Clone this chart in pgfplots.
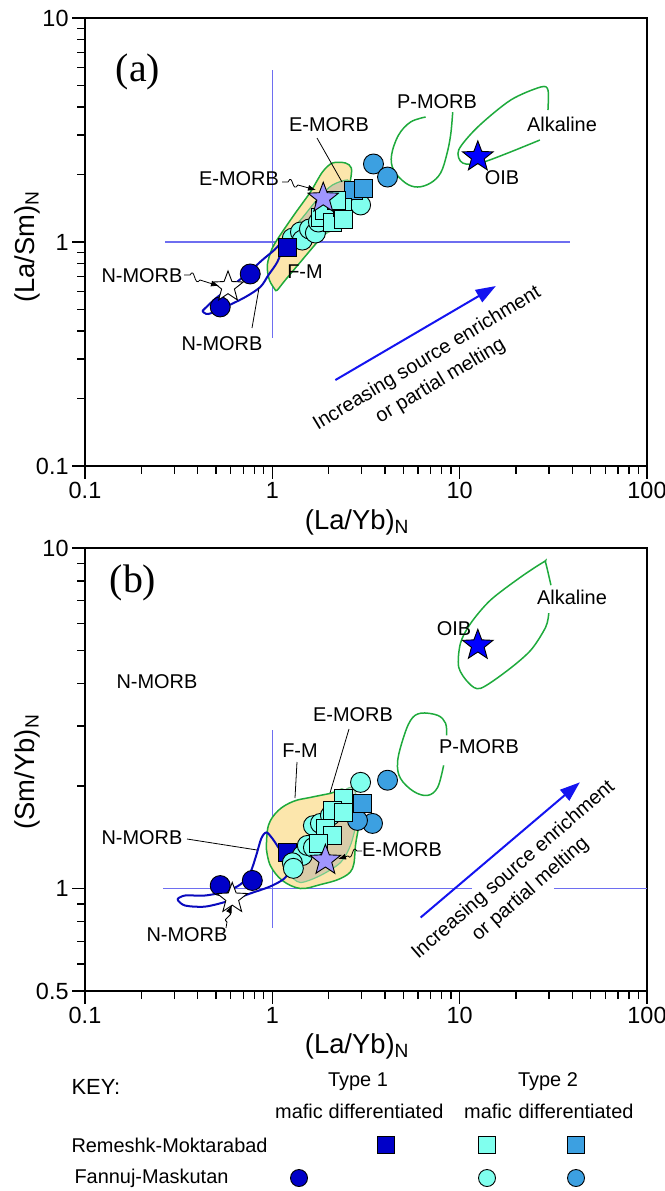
\documentclass[border=0pt]{standalone}
\usepackage{pgfplots}
\pgfplotsset{compat=1.18}
\usepackage{fontspec}
\setmainfont{Liberation Sans}
\newfontfamily\seriffont{Liberation Serif}
\usetikzlibrary{arrows.meta}

\definecolor{dblue}{RGB}{0,0,200}
\definecolor{cyanm}{RGB}{128,255,238}
\definecolor{mblue}{RGB}{60,160,225}
\definecolor{fmfill}{RGB}{252,230,172}
\definecolor{fgreen}{RGB}{30,170,60}
\definecolor{refl}{RGB}{110,110,240}
\definecolor{arrowb}{RGB}{20,20,240}
\definecolor{nmorb}{RGB}{10,10,190}
\definecolor{emstar}{RGB}{160,150,255}

\pgfdeclareplotmark{fstar}{%
\pgfpathmoveto{\pgfpointpolar{90}{\pgfplotmarksize}}%
\pgfpathlineto{\pgfpointpolar{126}{0.42\pgfplotmarksize}}%
\pgfpathlineto{\pgfpointpolar{162}{\pgfplotmarksize}}%
\pgfpathlineto{\pgfpointpolar{198}{0.42\pgfplotmarksize}}%
\pgfpathlineto{\pgfpointpolar{234}{\pgfplotmarksize}}%
\pgfpathlineto{\pgfpointpolar{270}{0.42\pgfplotmarksize}}%
\pgfpathlineto{\pgfpointpolar{306}{\pgfplotmarksize}}%
\pgfpathlineto{\pgfpointpolar{342}{0.42\pgfplotmarksize}}%
\pgfpathlineto{\pgfpointpolar{18}{\pgfplotmarksize}}%
\pgfpathlineto{\pgfpointpolar{54}{0.42\pgfplotmarksize}}%
\pgfpathclose
\pgfusepathqfillstroke}

\newcommand\fa{\fontsize{20}{26}\selectfont}
\newcommand\fb{\fontsize{27.5}{30}\selectfont}
\newcommand\ft{\fontsize{23.5}{24}\selectfont}
\newcommand\fp{\seriffont\fontsize{40}{40}\selectfont}

\begin{document}
\begin{tikzpicture}
\useasboundingbox (0,0) rectangle (665bp,-1191bp);

% ================= (a) =================
\begin{axis}[xmode=log, ymode=log, scale only axis, width=562bp, height=448bp,
  at={(85bp,-18bp)}, anchor=north west,
  xmin=0.1, xmax=100, ymin=0.1, ymax=10,
  xtick={0.1,1,10,100}, xticklabels={0.1,1,10,100},
  ytick={0.1,1,10}, yticklabels={0.1,1,10},
  minor xtick={0.2,0.3,0.4,0.5,0.6,0.7,0.8,0.9,2,3,4,5,6,7,8,9,20,30,40,50,60,70,80,90},
  minor ytick={0.2,0.3,0.4,0.5,0.6,0.7,0.8,0.9,2,3,4,5,6,7,8,9},
  axis line style={line width=1.6bp},
  tick style={line width=1.3bp, black},
  tick align=outside, xtick pos=bottom, ytick pos=left,
  major tick length=13bp, minor tick length=8bp,
  tick label style={font=\ft}]
\addplot[refl, line width=1.5bp] coordinates {(1,0.373) (1,5.86)};
\addplot[refl, line width=1.5bp] coordinates {(0.268,1) (38.7,1)};
\addplot[arrowb, line width=2bp, -{Triangle[length=20bp,width=14bp]}] coordinates {(2.17,0.242) (15.6,0.636)};
% F-M field
\addplot[smooth, tension=0.5, draw=fgreen, line width=1.5bp, fill=fmfill] coordinates {
(1.038,0.610) (0.964,0.677) (0.940,0.789) (1.0,0.940) (1.13,1.108) (1.327,1.347) (1.597,1.672)
(1.851,2.053) (2.094,2.253) (2.457,2.253) (2.64,2.14) (2.613,1.892) (2.457,1.54) (2.043,1.155)
(1.740,1.0) (1.413,0.814) (1.174,0.677) (1.063,0.610) (1.038,0.610)};
% E-MORB field
\addplot[smooth, tension=0.5, draw=fgreen!70, line width=1.2bp, fill=black!35, fill opacity=0.45] coordinates {
(1.145,1.042) (1.413,1.254) (1.762,1.571) (2.094,1.797) (2.518,1.892) (2.613,1.778) (2.457,1.389)
(2.173,1.155) (1.762,1.064) (1.377,1.021) (1.145,1.042)};
% N-MORB field
\addplot[smooth, tension=0.5, draw=nmorb, line width=2bp] coordinates {
(0.423,0.492) (0.495,0.557) (0.618,0.643) (0.762,0.742) (0.884,0.831) (1.025,0.921) (1.104,0.98)
(1.13,0.940) (1.063,0.814) (0.953,0.712) (0.863,0.630) (0.718,0.568) (0.561,0.513) (0.455,0.477) (0.423,0.492)};
% P-MORB
\addplot[smooth, tension=0.6, draw=fgreen, line width=1.5bp] coordinates {
(9.18,3.80) (8.95,3.004) (8.52,2.445) (7.91,2.032) (6.99,1.834) (5.96,1.76) (5.14,1.834)
(4.44,2.096) (4.33,2.445) (4.72,3.004) (5.47,3.433) (6.58,3.614)};
% Alkaline
\addplot[smooth, tension=0.5, draw=fgreen, line width=1.5bp] coordinates {
(29.6,3.884) (29.6,4.77) (27.1,4.92) (18.74,4.305) (12.48,3.26) (9.88,2.575) (10.38,2.253)
(13.44,2.275) (26.8,2.853)};
% samples
\addplot[only marks, mark=*, mark size=10bp, mark options={draw=black, line width=0.9bp, fill=dblue}] coordinates {(0.527,0.513) (0.762,0.72)};
\addplot[only marks, mark=*, mark size=10bp, mark options={draw=black, line width=0.9bp, fill=mblue}] coordinates {(3.467,2.23) (4.12,1.95)};
\addplot[only marks, mark=*, mark size=10bp, mark options={draw=black, line width=0.9bp, fill=cyanm}] coordinates {(1.279,1.04) (1.413,1.108) (1.445,1.02) (1.578,1.143) (1.698,1.097) (1.762,1.228) (1.944,1.334) (2.958,1.463)};
\addplot[only marks, mark=square*, mark size=9bp, mark options={draw=black, line width=0.9bp, fill=mblue}] coordinates {(2.71,1.706) (3.07,1.742)};
\addplot[only marks, mark=square*, mark size=9bp, mark options={draw=black, line width=0.9bp, fill=cyanm}] coordinates {(1.806,1.293) (1.897,1.389) (2.094,1.228) (2.368,1.433) (2.40,1.267) (2.198,1.54)};
\addplot[only marks, mark=square*, mark size=9bp, mark options={draw=black, line width=0.9bp, fill=dblue}] coordinates {(1.202,0.95)};
\addplot[only marks, mark=fstar, mark size=16bp, mark options={draw=black, line width=0.9bp, fill=blue}] coordinates {(12.5,2.4)};
\addplot[only marks, mark=fstar, mark size=16bp, mark options={draw=black, line width=0.9bp, fill=emstar}] coordinates {(1.87,1.57)};
\addplot[only marks, mark=fstar, mark size=16bp, mark options={draw=black, line width=0.9bp, fill=white}] coordinates {(0.58,0.63)};
\end{axis}

% ================= (b) =================
\begin{axis}[xmode=log, ymode=log, scale only axis, width=562bp, height=443bp,
  at={(85bp,-548bp)}, anchor=north west,
  xmin=0.1, xmax=100, ymin=0.5, ymax=10,
  xtick={0.1,1,10,100}, xticklabels={0.1,1,10,100},
  ytick={0.5,1,10}, yticklabels={0.5,1,10},
  minor xtick={0.2,0.3,0.4,0.5,0.6,0.7,0.8,0.9,2,3,4,5,6,7,8,9,20,30,40,50,60,70,80,90},
  minor ytick={0.6,0.7,0.8,0.9,2,3,4,5,6,7,8,9},
  axis line style={line width=1.6bp},
  tick style={line width=1.3bp, black},
  tick align=outside, xtick pos=bottom, ytick pos=left,
  major tick length=13bp, minor tick length=8bp,
  tick label style={font=\ft}]
\addplot[refl, line width=1.5bp] coordinates {(1,0.768) (1,2.915)};
\addplot[refl, line width=1.5bp] coordinates {(0.261,1) (11.6,1)};
\addplot[refl, line width=1.5bp] coordinates {(31.8,1) (100,1)};
\addplot[arrowb, line width=2bp, -{Triangle[length=20bp,width=14bp]}] coordinates {(6.19,0.822) (43.8,2.05)};
% F-M field
\addplot[smooth, tension=0.6, draw=fgreen, line width=1.5bp, fill=fmfill] coordinates {
(0.929,1.311) (0.953,1.532) (1.076,1.695) (1.295,1.803) (1.597,1.852) (2.043,1.903) (2.457,1.942)
(2.884,1.639) (2.779,1.339) (2.679,1.145) (2.311,1.070) (1.806,1.027) (1.413,1.0) (1.13,1.056)
(0.975,1.169) (0.929,1.311)};
% E-MORB field
\addplot[smooth, tension=0.5, draw=fgreen!60, line width=1.2bp, fill=black!35, fill opacity=0.4] coordinates {
(1.248,1.092) (1.413,1.25) (1.698,1.481) (2.043,1.719) (2.518,1.968) (2.779,1.916) (2.81,1.585)
(2.613,1.339) (2.311,1.192) (1.806,1.092) (1.413,1.041) (1.248,1.092)};
% N-MORB field
\addplot[smooth, tension=0.5, draw=nmorb, line width=2bp] coordinates {
(0.314,0.935) (0.343,0.954) (0.439,0.954) (0.561,0.980) (0.674,1.027) (0.762,1.114) (0.820,1.25)
(0.873,1.403) (0.929,1.461) (1.0,1.403) (1.104,1.293) (1.202,1.209) (1.248,1.145) (1.159,1.070)
(0.975,1.014) (0.762,0.967) (0.596,0.922) (0.439,0.885) (0.343,0.891) (0.314,0.922) (0.314,0.935)};
% P-MORB
\addplot[smooth, tension=0.6, draw=fgreen, line width=1.5bp] coordinates {
(8.52,2.818) (8.41,3.057) (7.63,3.226) (6.19,3.272) (5.47,3.119) (4.96,2.725) (4.66,2.348)
(4.83,2.106) (5.68,1.928) (6.74,1.877) (7.63,1.982) (8.21,2.30)};
% Alkaline
\addplot[smooth, tension=0.5, draw=fgreen, line width=1.5bp] coordinates {
(30.7,7.78) (28.8,9.03) (28.1,9.10) (21.2,8.22) (14.6,7.03) (11.45,6.01) (10.1,5.255) (9.88,4.467)
(11.2,4.009) (12.95,3.873) (18.06,4.375) (23.97,5.012) (28.8,5.86) (29.9,6.44)};
% samples
\addplot[only marks, mark=square*, mark size=9bp, mark options={draw=black, line width=0.9bp, fill=dblue}] coordinates {(1.202,1.276)};
\addplot[only marks, mark=*, mark size=10bp, mark options={draw=black, line width=0.9bp, fill=dblue}] coordinates {(0.527,1.02) (0.782,1.056)};
\addplot[only marks, mark=*, mark size=10bp, mark options={draw=black, line width=0.9bp, fill=mblue}] coordinates {(4.12,2.08) (3.425,1.553) (2.848,1.585)};
\addplot[only marks, mark=*, mark size=10bp, mark options={draw=black, line width=0.9bp, fill=cyanm}] coordinates {(2.958,2.05) (1.445,1.25) (1.279,1.19) (1.295,1.146) (1.538,1.338) (1.657,1.53) (1.806,1.553) (1.657,1.32) (2.043,1.639)};
\addplot[only marks, mark=square*, mark size=9bp, mark options={draw=black, line width=0.9bp, fill=mblue}] coordinates {(3.03,1.778)};
\addplot[only marks, mark=square*, mark size=9bp, mark options={draw=black, line width=0.9bp, fill=cyanm}] coordinates {(2.40,1.84) (2.094,1.695) (2.40,1.673) (1.92,1.50) (2.094,1.432) (1.762,1.356)};
\addplot[only marks, mark=fstar, mark size=16bp, mark options={draw=black, line width=0.9bp, fill=blue}] coordinates {(12.5,5.18)};
\addplot[only marks, mark=fstar, mark size=16bp, mark options={draw=black, line width=0.9bp, fill=emstar}] coordinates {(1.92,1.21)};
\addplot[only marks, mark=fstar, mark size=16bp, mark options={draw=black, line width=0.9bp, fill=white}] coordinates {(0.611,0.935)};
\end{axis}

% ================= key markers =================
\begin{axis}[at={(0bp,-1191bp)}, anchor=south west, scale only axis, width=665bp, height=150bp,
  xmin=0, xmax=665, ymin=-1191, ymax=-1041, hide axis, clip=false]
\addplot[only marks, mark=square*, mark size=8.5bp, mark options={draw=black, line width=0.9bp, fill=dblue}] coordinates {(386,-1145)};
\addplot[only marks, mark=square*, mark size=8.5bp, mark options={draw=black, line width=0.9bp, fill=cyanm}] coordinates {(487,-1145)};
\addplot[only marks, mark=square*, mark size=8.5bp, mark options={draw=black, line width=0.9bp, fill=mblue}] coordinates {(576,-1145)};
\addplot[only marks, mark=*, mark size=8.5bp, mark options={draw=black, line width=0.9bp, fill=dblue}] coordinates {(299,-1178)};
\addplot[only marks, mark=*, mark size=8.5bp, mark options={draw=black, line width=0.9bp, fill=cyanm}] coordinates {(487,-1178)};
\addplot[only marks, mark=*, mark size=8.5bp, mark options={draw=black, line width=0.9bp, fill=mblue}] coordinates {(576,-1178)};
\end{axis}

% ================= text and leaders =================
\begin{scope}[x=1bp, y=-1bp]
\node[rotate=90, font=\fb] at (27,247) {(La/Sm)\textsubscript{N}};
\node[rotate=90, font=\fb] at (27,772) {(Sm/Yb)\textsubscript{N}};
\node[font=\fb] at (357,522) {(La/Yb)\textsubscript{N}};
\node[font=\fb] at (357,1046) {(La/Yb)\textsubscript{N}};
% (a)
\node[font=\fp] at (138,72) {(a)};
\node[font=\fa] at (437,102) {P-MORB};
\node[font=\fa] at (562,124) {Alkaline};
\node[font=\fa] at (502,178) {OIB};
\node[font=\fa] at (329,125) {E-MORB};
\node[font=\fa] at (239,179) {E-MORB};
\node[font=\fa] at (142,276) {N-MORB};
\node[font=\fa] at (222,344) {N-MORB};
\node[font=\fa] at (305,272) {F-M};
\node[font=\fa, rotate=31, align=center] at (434,370) {Increasing source enrichment\\or partial melting};
\draw[line width=0.8bp] (317,138) -- (342,182);
\draw[line width=0.8bp] (252,328) -- (259,288);
\draw[line width=0.8bp, -{Latex[length=8bp,width=6bp]}] (282,182) -- (288,182) .. controls (293,172) and (292,194) .. (298,185) -- (316,190);
\draw[line width=0.8bp, -{Latex[length=8bp,width=6bp]}] (184,275) -- (190,275) .. controls (195,266) and (194,288) .. (200,280) -- (219,286);
% (b)
\node[font=\fp] at (133,583) {(b)};
\node[font=\fa] at (157,682) {N-MORB};
\node[font=\fa] at (142,838) {N-MORB};
\node[font=\fa] at (187,935) {N-MORB};
\node[font=\fa] at (300,751) {F-M};
\node[font=\fa] at (353,715) {E-MORB};
\node[font=\fa] at (402,850) {E-MORB};
\node[font=\fa] at (479,747) {P-MORB};
\node[font=\fa] at (572,597) {Alkaline};
\node[font=\fa] at (454,629) {OIB};
\node[font=\fa, rotate=41, align=center] at (522,880) {Increasing source enrichment\\or partial melting};
\draw[line width=0.8bp] (297,762) -- (295,798);
\draw[line width=0.8bp] (349,729) -- (330,793);
\draw[line width=0.8bp] (187,839) -- (257,850);
\draw[line width=0.8bp, -{Latex[length=8bp,width=6bp]}] (362,851) -- (357,851) .. controls (352,843) and (353,862) .. (348,856) -- (338,859);
\draw[line width=0.8bp, -{Latex[length=8bp,width=6bp]}] (226,928) -- (227,922) .. controls (221,918) and (235,916) .. (229,912) -- (232,905);
% key
\node[font=\fontsize{22}{22}\selectfont, anchor=west] at (68,1087) {KEY:};
\node[font=\fa] at (358,1082) {Type 1};
\node[font=\fa] at (548,1082) {Type 2};
\node[font=\fa] at (299,1111) {mafic};
\node[font=\fa] at (386,1111) {differentiated};
\node[font=\fa] at (488,1111) {mafic};
\node[font=\fa] at (576,1111) {differentiated};
\node[font=\fa, anchor=west] at (68,1145) {Remeshk-Moktarabad};
\node[font=\fa, anchor=west] at (71,1178) {Fannuj-Maskutan};
\end{scope}
\end{tikzpicture}
\end{document}
